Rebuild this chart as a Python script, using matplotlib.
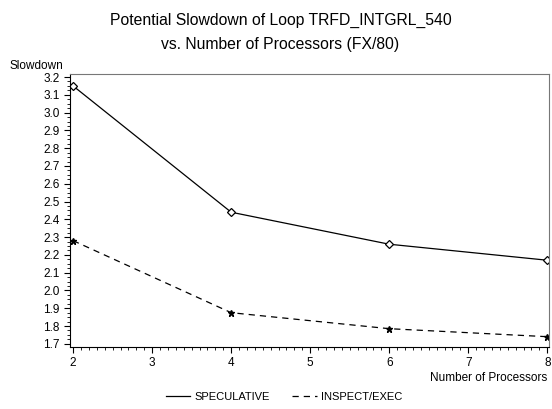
import matplotlib
matplotlib.use("Agg")
import matplotlib.pyplot as plt
from matplotlib.ticker import MultipleLocator

# data
processors = [2, 4, 6, 8]
speculative = [3.15, 2.44, 2.26, 2.17]
inspect_exec = [2.28, 1.875, 1.785, 1.74]

plt.rcParams['font.family'] = ['Liberation Sans', 'DejaVu Sans']

fig = plt.figure(figsize=(5.52, 4.09), dpi=100)
ax = fig.add_axes([0.127, 0.152, 0.868, 0.667])

ax.plot(processors, speculative, color='black', lw=0.9, marker='D', ms=4,
        mfc='white', mec='black', mew=0.9, label='SPECULATIVE')
ax.plot(processors, inspect_exec, color='black', lw=0.9, ls=(0, (5, 4)),
        marker='*', ms=5, mfc='black', mec='black', label='INSPECT/EXEC')

ax.set_xlim(1.962, 8.025)
ax.set_ylim(1.683, 3.217)
ax.xaxis.set_major_locator(MultipleLocator(1))
ax.xaxis.set_minor_locator(MultipleLocator(0.1))
ax.yaxis.set_major_locator(MultipleLocator(0.1))
ax.yaxis.set_minor_locator(MultipleLocator(0.025))
ax.yaxis.set_major_formatter(plt.FormatStrFormatter('%.1f'))

ax.tick_params(which='major', direction='out', length=4, width=0.8, labelsize=8.5)
ax.tick_params(which='minor', direction='out', length=2, width=0.6)
ax.tick_params(axis='x', pad=3)
for s in ax.spines.values():
    s.set_linewidth(0.8)
ax.spines['top'].set_color('#777777')
ax.spines['right'].set_color('#777777')

fig.text(0.508, 0.95, 'Potential Slowdown of Loop TRFD_INTGRL_540',
         ha='center', va='center', fontsize=11.3)
fig.text(0.508, 0.89, 'vs. Number of Processors (FX/80)',
         ha='center', va='center', fontsize=11.3)
fig.text(0.018, 0.838, 'Slowdown', ha='left', va='center', fontsize=8.5)
fig.text(0.992, 0.076, 'Number of Processors', ha='right', va='center', fontsize=8.5)

fig.legend(loc='center', bbox_to_anchor=(0.515, 0.03), ncol=2, frameon=False,
           fontsize=8, handlelength=2.2, columnspacing=2.0, handletextpad=0.4)
for h in fig.legends[0].legend_handles:
    h.set_marker('')

fig.savefig('out.png', dpi=100)
